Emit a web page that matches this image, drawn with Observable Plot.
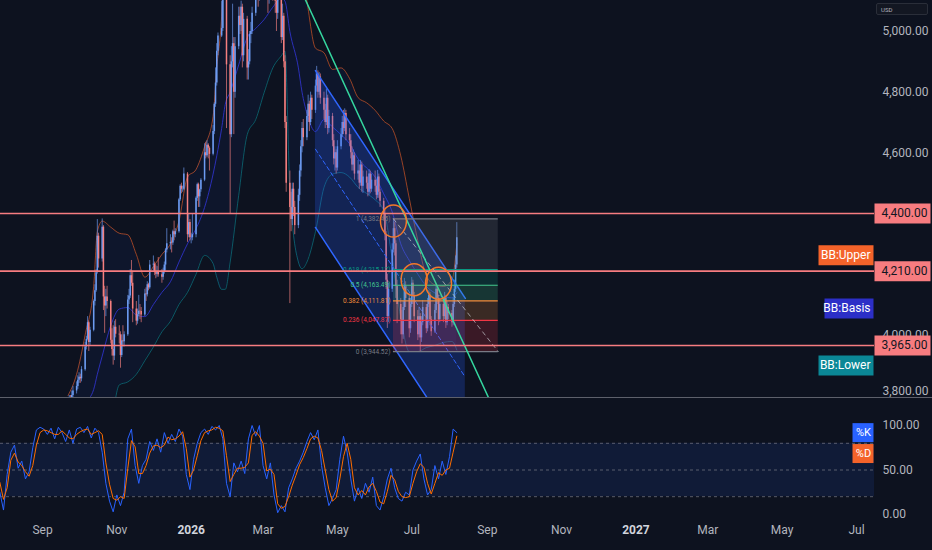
<!DOCTYPE html>
<html><head><meta charset="utf-8">
<script src="https://cdn.jsdelivr.net/npm/d3@7"></script>
<script src="https://cdn.jsdelivr.net/npm/@observablehq/plot@0.6"></script>
<style>
html,body{margin:0;padding:0;background:#0d121f;}
#chart{position:relative;width:932px;height:550px;overflow:hidden;background:#0d121f;font-family:Roboto,"Noto Sans",sans-serif;}
#chart svg{display:block;}
.sep{height:1px;background:#5d606b;width:932px;}
#usd{position:absolute;left:876px;top:3px;width:52px;height:12px;border:1px solid #2a2e39;background:#131722;border-radius:2px;color:#b2b5be;font-size:6px;line-height:11px;padding-left:4px;box-sizing:border-box;}
</style></head><body><div id="chart"><div id="usd">USD</div></div>
<script>
// ---------- DATA ----------
const opens = [
3760,3770,3790,3785,3800, 3815,3830,3850,3860,3855, 3885,3960,3985,4040,3975, 4015,4110,4145,4205,4325,
4250,4355,4125,4095,4125, 4110,3982,3952,3930,4025, 4002,4000,3932,3980,3977, 4000,4115,4128,4195,4170,
4085,4045,4066,4078,4077, 4065,4135,4132,4165,4155, 4230,4233,4205,4200,4208, 4198,4190,4208,4230,4280,
4300,4305,4303,4340,4330, 4340,4445,4490,4480,4480, 4530,4330,4370,4320,4320, 4330,4450,4495,4455,4478,
4510,4600,4590,4625,4615, 4595,4670,4760,4830,4935, 4985,5010,5180,5300,5400, 4890,4660,4900,4960,4800,
4950,5050,5020,5080,4920, 5040,4880,4900,4990,5000, 5060,5150,5180,5120,5200, 5250,5300,5250,5180,5120,
5160,5150,5180,5100,5060, 5110,4980,5050,4900,4700, 4500,4420,4380,4480,4420, 4360,4460,4540,4620,4680,
4650,4720,4760,4700,4780, 4740,4820,4860,4800,4850, 4780,4740,4700,4780,4680, 4720,4640,4580,4600,4550,
4620,4660,4700,4680,4730, 4660,4640,4600,4560,4590, 4530,4540,4500,4560,4490, 4520,4500,4470,4530,4480,
4510,4490,4460,4520,4470, 4440,4400,4330,4180,4060, 4150,4280,4350,4300,4160, 4100,4050,4000,4090,4160,
4120,4020,4100,4170,4130, 4060,4000,4060,3990,4040, 4090,4020,4100,4130,4050, 4010,4080,4150,4120,4050,
4100,4060,4120,4040,4090, 4070,4040,4100,4150,4230];
const highs = [
3785,3800,3800,3815,3830, 3845,3865,3875,3870,3895, 3975,3995,4060,4045,4025, 4115,4165,4215,4380,4335,
4382,4360,4160,4150,4160, 4115,4020,4030,4045,4050, 4030,4010,4000,4030,4010, 4130,4150,4215,4245,4210,
4110,4085,4130,4100,4090, 4150,4155,4175,4170,4245, 4260,4240,4230,4225,4255, 4215,4220,4240,4285,4350,
4330,4320,4345,4375,4350, 4450,4495,4500,4490,4550, 4535,4400,4380,4335,4400, 4455,4500,4500,4480,4515,
4630,4635,4640,4630,4620, 4690,4765,4880,4960,4995, 5100,5190,5330,5600,5450, 4920,4950,5090,4980,4980,
5080,5080,5100,5090,5060, 5050,4940,5000,5030,5080, 5170,5200,5190,5220,5270, 5350,5310,5260,5190,5200,
5190,5220,5190,5120,5140, 5130,5090,5060,4920,4720, 4540,4470,4500,4500,4440, 4480,4560,4640,4700,4710,
4740,4790,4770,4800,4790, 4840,4885,4870,4865,4860, 4800,4760,4810,4790,4740, 4730,4660,4620,4610,4640,
4680,4720,4740,4745,4740, 4680,4660,4620,4610,4600, 4575,4560,4575,4570,4540, 4540,4520,4545,4540,4530,
4540,4510,4542,4530,4480, 4450,4410,4340,4200,4170, 4300,4382,4370,4310,4180, 4120,4080,4110,4186,4175,
4130,4120,4189,4180,4140, 4080,4090,4070,4060,4113, 4100,4120,4145,4140,4060, 4100,4163,4160,4130,4120,
4110,4140,4130,4110,4100, 4080,4120,4180,4260,4370];
const lows = [
3745,3760,3770,3775,3790, 3805,3820,3840,3840,3845, 3880,3950,3980,3945,3965, 4010,4095,4140,4200,4220,
4240,4080,4005,4060,4085, 3970,3930,3900,3915,3990, 3970,3890,3925,3960,3960, 3995,4100,4120,4160,4040,
4030,4035,4060,4050,4040, 4060,4110,4125,4145,4150, 4210,4195,4185,4190,4190, 4170,4180,4200,4210,4270,
4280,4270,4295,4310,4320, 4335,4440,4465,4470,4475, 4305,4320,4310,4300,4310, 4320,4440,4420,4420,4470,
4505,4580,4585,4580,4540, 4590,4660,4750,4820,4920, 4980,5000,5170,5290,4680, 4400,4650,4880,4660,4780,
4940,4990,5000,4880,4900, 4840,4840,4890,4960,4990, 5050,5120,5080,5100,5170, 5230,5200,5140,5060,5090,
5100,5120,5060,5000,5040, 4960,4970,4880,4680,4470, 4103,4340,4360,4390,4330, 4350,4440,4520,4600,4620,
4640,4700,4670,4690,4710, 4730,4800,4780,4790,4760, 4710,4680,4690,4660,4665, 4620,4560,4540,4530,4540,
4610,4650,4660,4670,4640, 4620,4580,4540,4540,4510, 4510,4480,4490,4470,4466, 4480,4455,4460,4465,4470,
4470,4445,4450,4450,4420, 4380,4310,4150,4021,4040, 4140,4270,4260,4120,4037, 4000,3970,3985,4080,4090,
3990,4005,4090,4100,4040, 3981,3990,3945,3975,4030, 4004,4010,4090,4030,3995, 4005,4070,4100,4030,4040,
4040,4050,4021,4030,4050, 4025,4030,4090,4140,4220];
const closes = [
3770,3790,3785,3800,3815, 3830,3850,3860,3855,3885, 3960,3985,4040,3975,4015, 4110,4145,4205,4325,4250,
4355,4125,4095,4125,4110, 3982,3952,3930,4025,4002, 4000,3932,3980,3977,4000, 4115,4128,4195,4170,4085,
4045,4066,4078,4077,4065, 4135,4132,4165,4155,4230, 4233,4205,4200,4208,4198, 4190,4208,4230,4280,4300,
4305,4303,4340,4330,4340, 4445,4490,4480,4480,4530, 4330,4370,4320,4320,4330, 4450,4495,4455,4478,4510,
4600,4590,4625,4615,4595, 4670,4760,4830,4935,4985, 5010,5180,5300,5400,4890, 4660,4900,4960,4800,4950,
5050,5020,5080,4920,5040, 4880,4900,4990,5000,5060, 5150,5180,5120,5200,5250, 5300,5250,5180,5120,5160,
5150,5180,5100,5060,5110, 4980,5050,4900,4700,4500, 4420,4380,4480,4420,4360, 4460,4540,4620,4680,4650,
4720,4760,4700,4780,4740, 4820,4860,4800,4850,4780, 4740,4700,4780,4680,4720, 4640,4580,4600,4550,4620,
4660,4700,4680,4730,4660, 4640,4600,4560,4590,4530, 4540,4500,4560,4490,4520, 4500,4470,4530,4480,4510,
4490,4460,4520,4470,4440, 4400,4330,4180,4060,4150, 4280,4350,4300,4160,4100, 4050,4000,4090,4160,4120,
4020,4100,4170,4130,4060, 4000,4060,3990,4040,4090, 4020,4100,4130,4050,4010, 4080,4150,4120,4050,4100,
4060,4120,4040,4090,4070, 4040,4100,4150,4230,4320];

const bbDates = ["2025-09-22","2025-09-29","2025-10-06","2025-10-13","2025-10-16","2025-10-20","2025-10-27","2025-11-03","2025-11-10","2025-11-17","2025-11-24","2025-12-01","2025-12-08","2025-12-15","2025-12-22","2025-12-29","2026-01-05","2026-01-12","2026-01-19","2026-01-22","2026-01-26","2026-01-29","2026-02-02","2026-02-09","2026-02-16","2026-02-23","2026-03-02","2026-03-09","2026-03-16","2026-03-19","2026-03-23","2026-03-30","2026-04-02","2026-04-06","2026-04-13","2026-04-20","2026-04-27","2026-05-04","2026-05-11","2026-05-18","2026-05-25","2026-06-01","2026-06-08","2026-06-15","2026-06-22","2026-06-29","2026-07-06","2026-07-13","2026-07-20","2026-07-27","2026-08-03","2026-08-07"];
const bbUpper = [3800,3870,4000,4160,4340,4375,4355,4335,4330,4265,4190,4225,4265,4300,4375,4520,4545,4620,4720,4880,5050,5350,5500,5550,5500,5400,5350,5320,5300,5300,5450,5300,5200,5100,4945,4930,4875,4880,4845,4782,4765,4740,4705,4680,4590,4450,4310,4195,4165,4160,4180,4300];
const bbBasis = [3700,3740,3775,3820,3870,3930,4030,4085,4090,4065,4060,4100,4140,4175,4240,4300,4350,4420,4530,4590,4680,4760,4800,4890,4980,5010,5040,5080,5110,5100,5000,4880,4800,4730,4670,4710,4685,4660,4630,4580,4550,4520,4465,4405,4300,4245,4200,4160,4138,4125,4122,4139];
const bbLower = [3500,3580,3600,3620,3610,3600,3700,3835,3845,3870,3915,3960,4010,4045,4100,4140,4200,4262,4235,4190,4150,4150,4240,4460,4660,4710,4800,4880,4920,4935,4480,4240,4218,4240,4340,4486,4530,4535,4520,4486,4466,4445,4410,4250,4057,3945,3945,3958,3965,3975,3978,3950];

const stochK = [25,5,45,70,78,52,60,40,48,75,95,98,96,90,97,85,98,92,82,95,80,96,98,92,99,86,97,92,70,35,15,3,22,10,25,85,96,55,35,55,62,82,72,85,70,92,80,90,82,96,88,45,28,62,80,92,96,90,99,95,100,85,35,20,58,48,60,46,85,100,88,100,55,40,58,22,2,10,3,30,40,52,60,70,82,92,84,95,55,30,10,18,28,62,88,70,40,15,30,18,35,25,42,10,5,20,40,52,30,18,15,25,22,50,60,68,40,22,28,55,40,60,45,65,96,92];
const stochD = [36,17,30,61,69,59,55,48,43,55,78,92,95,94,92,90,90,94,90,86,85,90,93,95,96,90,92,94,90,58,34,18,16,20,18,52,83,76,46,46,55,69,77,78,75,78,87,84,85,88,93,74,42,50,66,83,92,94,95,98,97,94,66,37,45,52,52,53,58,89,93,88,80,49,51,45,12,7,9,20,33,44,56,64,74,85,88,86,72,50,28,15,19,40,65,80,62,30,22,27,22,31,35,26,14,12,26,44,39,26,20,19,20,35,48,57,53,35,23,35,47,44,50,52,70,88];
const stochStart = "2025-07-28";

const hLevels = [4400, 4210, 3965];
const priceTicks = [5000, 4800, 4600, 4000];
const bottomPriceTick = [3800];
const stochTicks = [100, 50, 0];
const stochBands = [80, 50, 20];

const chanDates = ["2026-04-13", "2026-08-14"];
const chanUpper = [4871, 4120];
const chanMid = [4612, 3860];
const chanLower = [4354, 3600];

const trendDates = ["2026-03-20", "2026-09-20"];
const trendPrices = [5242, 3636];

const fibStart = "2026-06-16", fibEnd = "2026-09-10";
const fibLevels = ["1", "0.618", "0.5", "0.382", "0.236", "0"];
const fibPrices = [4382.45, 4215.17, 4163.49, 4111.81, 4047.87, 3944.52];
const fibColors = ["#787b86", "#089981", "#43c88e", "#f08c3c", "#f23645", "#787b86"];

const circleDates = ["2026-06-16", "2026-07-03", "2026-07-23"];
const circlePrices = [4375, 4182, 4170];

const bbLabelNames = ["BB:Upper", "BB:Basis", "BB:Lower"];
const bbLabelPrices = [4262, 4087, 3899];
const bbLabelColors = ["#f4632a", "#2c2fc7", "#0b8796"];
const bbLabelWidths = [55, 49, 55];

const stochLabelNames = ["%K", "%D"];
const stochLabelValues = [92, 68.5];
const stochLabelColors = ["#2962ff", "#f4632a"];

const xTickDates = ["2025-09-01","2025-11-01","2026-01-01","2026-03-01","2026-05-01","2026-07-01","2026-09-01","2026-11-01","2027-01-01","2027-03-01","2027-05-01","2027-07-01"];
const xTickLabels = ["Sep","Nov","2026","Mar","May","Jul","Sep","Nov","2027","Mar","May","Jul"];

// ---------- BUILD ----------
const xDomain = [new Date("2025-07-28T12:49:00Z"), new Date("2027-07-15T18:30:00Z")];
const days = d3.utcDays(new Date("2025-09-22"), new Date("2026-08-08")).filter(d => d.getUTCDay() > 0 && d.getUTCDay() < 6);
const candles = days.map((date, i) => ({date, open: opens[i], high: highs[i], low: lows[i], close: closes[i]}));
const bb = bbDates.map((d, i) => ({date: new Date(d), upper: bbUpper[i], basis: bbBasis[i], lower: bbLower[i]}));
const stoch = stochK.map((k, i) => ({date: d3.utcDay.offset(new Date(stochStart), 3 * i), k, d: stochD[i]}));
const chan = chanDates.map((d, i) => ({date: new Date(d), hi: chanUpper[i], mid: chanMid[i], lo: chanLower[i]}));
const trend = trendDates.map((d, i) => ({date: new Date(d), price: trendPrices[i]}));
const fib = fibLevels.map((l, i) => ({level: l, price: fibPrices[i], color: fibColors[i]}));
const fibZones = fib.slice(0, -1).map((f, i) => ({top: f.price, bottom: fib[i + 1].price, color: f.color}));
const circles = circleDates.map((d, i) => ({date: new Date(d), price: circlePrices[i]}));
const xTicks = xTickDates.map((d, i) => ({date: new Date(d), label: xTickLabels[i], year: /^\d{4}$/.test(xTickLabels[i])}));
const fmt = d3.format(",.2f");
const UP = "#6d9cf2", DOWN = "#f57f7f";

const boxSym = (x0, w, h) => ({draw(ctx) {ctx.moveTo(x0, -h / 2); ctx.lineTo(x0 + w, -h / 2); ctx.lineTo(x0 + w, h / 2); ctx.lineTo(x0, h / 2); ctx.closePath();}});
const ellipseSym = (rx, ry) => ({draw(ctx) {
  const k = 0.5523;
  ctx.moveTo(rx, 0);
  ctx.bezierCurveTo(rx, ry * k, rx * k, ry, 0, ry);
  ctx.bezierCurveTo(-rx * k, ry, -rx, ry * k, -rx, 0);
  ctx.bezierCurveTo(-rx, -ry * k, -rx * k, -ry, 0, -ry);
  ctx.bezierCurveTo(rx * k, -ry, rx, -ry * k, rx, 0);
  ctx.closePath();
}});

const font = "Roboto, 'Noto Sans', sans-serif";

const main = Plot.plot({
  width: 932, height: 397, marginTop: 0, marginBottom: 0, marginLeft: 0, marginRight: 58,
  x: {type: "utc", domain: xDomain, axis: null},
  y: {domain: [3793.4, 5102.2], axis: null},
  style: {background: "transparent", color: "#b2b5be", fontFamily: font},
  marks: [
    Plot.areaY(bb, {x: "date", y1: "lower", y2: "upper", fill: "#2962ff", fillOpacity: 0.06, curve: "monotone-x", clip: true}),
    Plot.line(bb, {x: "date", y: "upper", stroke: "#f4632a", strokeOpacity: 0.6, strokeWidth: 1, curve: "monotone-x", clip: true}),
    Plot.line(bb, {x: "date", y: "basis", stroke: "#3034d0", strokeOpacity: 0.85, strokeWidth: 1, curve: "monotone-x", clip: true}),
    Plot.line(bb, {x: "date", y: "lower", stroke: "#0b8796", strokeOpacity: 0.6, strokeWidth: 1, curve: "monotone-x", clip: true}),
    Plot.ruleX(candles, {x: "date", y1: "low", y2: "high", stroke: d => d.close >= d.open ? UP : DOWN, strokeWidth: 0.8, strokeOpacity: 0.85, clip: true}),
    Plot.ruleX(candles, {x: "date", y1: "open", y2: "close", stroke: d => d.close >= d.open ? UP : DOWN, strokeWidth: 1.5, clip: true}),
    Plot.areaY(chan, {x: "date", y1: "lo", y2: "hi", fill: "#2962ff", fillOpacity: 0.24, clip: true}),
    Plot.line(chan, {x: "date", y: "hi", stroke: "#2f66ff", strokeWidth: 1.5, clip: true}),
    Plot.line(chan, {x: "date", y: "lo", stroke: "#2f66ff", strokeWidth: 1.5, clip: true}),
    Plot.line(chan, {x: "date", y: "mid", stroke: "#2f66ff", strokeWidth: 1, strokeDasharray: "4,3", clip: true}),
    Plot.rect(fibZones, {x1: () => new Date(fibStart), x2: () => new Date(fibEnd), y1: "bottom", y2: "top", fill: "color", fillOpacity: 0.2}),
    Plot.ruleY(fib, {x1: () => new Date(fibStart), x2: () => new Date(fibEnd), y: "price", stroke: "color", strokeWidth: 1.2}),
    Plot.text(fib, {x: () => new Date(fibStart), y: "price", text: d => `${d.level} (${fmt(d.price)})`, fill: "color", textAnchor: "end", dx: -3, fontSize: 6.5}),
    Plot.line([fib[0], fib[5]], {x: (d, i) => new Date(i === 0 ? fibStart : fibEnd), y: "price", stroke: "#c8cad0", strokeOpacity: 0.7, strokeDasharray: "4,4", strokeWidth: 1}),
    Plot.line(trend, {x: "date", y: "price", stroke: "#35d69f", strokeWidth: 1.5, clip: true}),
    Plot.ruleY(hLevels, {stroke: "#f77c80", strokeWidth: 1.6}),
    Plot.dot(circles, {x: "date", y: "price", symbol: ellipseSym(13, 16), stroke: "#f5782a", strokeWidth: 1.5, fill: "#f5782a", fillOpacity: 0.08}),
    Plot.text(priceTicks, {y: d => d, frameAnchor: "right", dx: 8, textAnchor: "start", text: d => fmt(d), fill: "#b2b5be", fontSize: 12}),
    Plot.text(bottomPriceTick, {y: d => d, frameAnchor: "right", dx: 8, dy: -4, textAnchor: "start", text: d => fmt(d), fill: "#b2b5be", fontSize: 12}),
    Plot.dot(hLevels, {y: d => d, frameAnchor: "right", symbol: boxSym(0, 56, 20), fill: "#f77c80", stroke: "none"}),
    Plot.text(hLevels, {y: d => d, frameAnchor: "right", dx: 7, textAnchor: "start", text: d => fmt(d), fill: "#131722", fontSize: 12}),
    ...bbLabelNames.map((n, i) => Plot.dot([bbLabelPrices[i]], {y: d => d, frameAnchor: "right", symbol: boxSym(-bbLabelWidths[i] - 1, bbLabelWidths[i], 20), fill: bbLabelColors[i], stroke: "none"})),
    Plot.text(bbLabelNames, {y: (d, i) => bbLabelPrices[i], frameAnchor: "right", dx: -4, textAnchor: "end", text: d => d, fill: "white", fontSize: 12})
  ]
});

const lower = Plot.plot({
  width: 932, height: 152, marginTop: 0, marginBottom: 27, marginLeft: 0, marginRight: 58,
  x: {type: "utc", domain: xDomain, axis: null},
  y: {domain: [-10.11, 130.34], axis: null},
  style: {background: "transparent", color: "#b2b5be", fontFamily: font},
  marks: [
    Plot.rect([stochBands], {x1: () => xDomain[0], x2: () => xDomain[1], y1: d => d[2], y2: d => d[0], fill: "#2962ff", fillOpacity: 0.11}),
    Plot.ruleY(stochBands, {stroke: "#787b86", strokeOpacity: 0.7, strokeDasharray: "3,3"}),
    Plot.line(stoch, {x: "date", y: "k", stroke: "#2962ff", strokeWidth: 1, clip: true}),
    Plot.line(stoch, {x: "date", y: "d", stroke: "#ff6d00", strokeWidth: 1, clip: true}),
    Plot.text(stochTicks, {y: d => d, frameAnchor: "right", dx: 8, textAnchor: "start", text: d => d3.format(".2f")(d), fill: "#b2b5be", fontSize: 12}),
    ...stochLabelNames.map((n, i) => Plot.dot([stochLabelValues[i]], {y: d => d, frameAnchor: "right", symbol: boxSym(-22, 21, 19), fill: stochLabelColors[i], stroke: "none"})),
    Plot.text(stochLabelNames, {y: (d, i) => stochLabelValues[i], frameAnchor: "right", dx: -11, textAnchor: "middle", text: d => d, fill: "white", fontSize: 11}),
    Plot.text(xTicks.filter(d => !d.year), {x: "date", frameAnchor: "bottom", dy: 10, text: "label", fill: "#b2b5be", fontSize: 12}),
    Plot.text(xTicks.filter(d => d.year), {x: "date", frameAnchor: "bottom", dy: 10, text: "label", fill: "#d1d4dc", fontSize: 12, fontWeight: "bold"})
  ]
});

const chart = document.getElementById("chart");
chart.appendChild(main);
const sep = document.createElement("div"); sep.className = "sep"; chart.appendChild(sep);
chart.appendChild(lower);
</script></body></html>
